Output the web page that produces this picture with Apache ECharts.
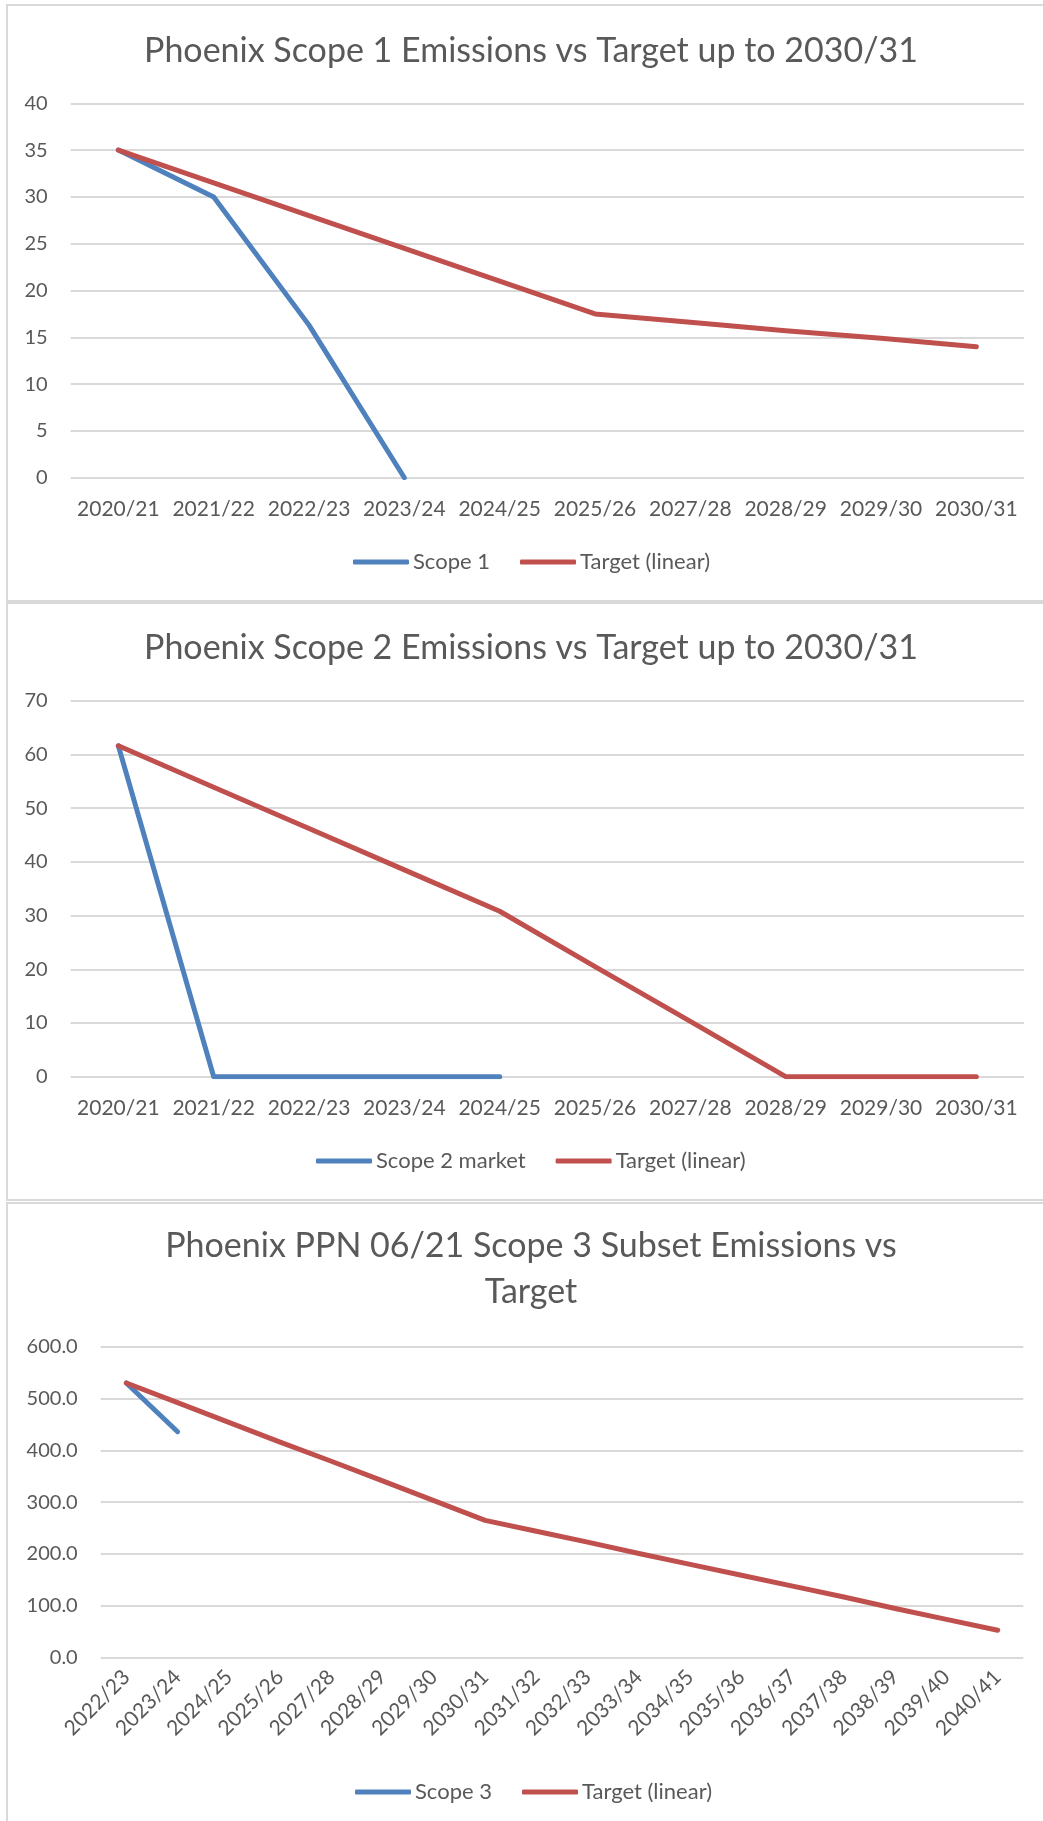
<!DOCTYPE html>
<html lang="en" style="height: 100%">
<head>
  <meta charset="utf-8">
</head>
<body style="height: 100%; margin: 0">
  <div id="container" style="width: 1043px; height: 1821px"></div>

  <script type="text/javascript" src="https://fastly.jsdelivr.net/npm/echarts@6/dist/echarts.min.js"></script>

  <script type="text/javascript">
    // chart 1 - scope 1
    var years1 = ['2020/21', '2021/22', '2022/23', '2023/24', '2024/25', '2025/26', '2027/28', '2028/29', '2029/30', '2030/31'];
    var scope1 = [35, 30, 16.3, 0, null, null, null, null, null, null];
    var target1 = [35, 31.5, 28, 24.5, 21, 17.5, 16.6, 15.7, 14.9, 14];

    // chart 2 - scope 2 market
    var years2 = ['2020/21', '2021/22', '2022/23', '2023/24', '2024/25', '2025/26', '2027/28', '2028/29', '2029/30', '2030/31'];
    var scope2 = [61.6, 0, 0, 0, 0, null, null, null, null, null];
    var target2 = [61.6, 53.9, 46.2, 38.5, 30.8, 20.5, 10.3, 0, 0, 0];

    // chart 3 - scope 3 subset
    var years3 = ['2022/23', '2023/24', '2024/25', '2025/26', '2027/28', '2028/29', '2029/30', '2030/31', '2031/32',
      '2032/33', '2033/34', '2034/35', '2035/36', '2036/37', '2037/38', '2038/39', '2039/40', '2040/41'];
    var scope3 = [530, 436, null, null, null, null, null, null, null, null, null, null, null, null, null, null, null, null];
    var target3 = [530, 492, 454, 416, 379, 341, 303, 265, 244, 223, 201, 180, 159, 138, 117, 95, 74, 53];

    var dom = document.getElementById('container');
    var myChart = echarts.init(dom, null, { renderer: 'canvas' });

    var FONT = 'Lato';
    var GREY = '#595959';
    var BLUE = '#4F81BD';
    var RED = '#C0504D';

    function xAxis(idx, data, rotate) {
      return {
        type: 'category',
        gridIndex: idx,
        data: data,
        axisLine: { show: false },
        axisTick: { show: false },
        axisLabel: {
          color: GREY,
          fontFamily: FONT,
          fontSize: 21,
          margin: rotate ? 16 : 21,
          rotate: rotate || 0,
          interval: 0
        }
      };
    }

    function yAxis(idx, max, step, digits) {
      return {
        type: 'value',
        gridIndex: idx,
        min: 0,
        max: max,
        interval: step,
        axisLine: { show: false },
        axisTick: { show: false },
        splitLine: { lineStyle: { color: '#d9d9d9', width: 2 } },
        axisLabel: {
          color: GREY,
          fontFamily: FONT,
          fontSize: 20,
          margin: 23,
          formatter: function (v) { return v.toFixed(digits); }
        }
      };
    }

    function line(name, idx, data, color) {
      return {
        name: name,
        type: 'line',
        xAxisIndex: idx,
        yAxisIndex: idx,
        data: data,
        symbol: 'none',
        silent: true,
        lineStyle: { color: color, width: 5, cap: 'round', join: 'round' },
        itemStyle: { color: color }
      };
    }

    function legend(names, left, top) {
      return {
        data: names,
        left: left,
        top: top,
        icon: 'roundRect',
        itemWidth: 56,
        itemHeight: 5,
        itemGap: 30,
        textStyle: { color: GREY, fontFamily: FONT, fontSize: 22, padding: [0, 0, 0, -1] }
      };
    }

    function title(text, top) {
      return {
        text: text,
        left: 526,
        top: top,
        textAlign: 'center',
        textStyle: { color: GREY, fontFamily: FONT, fontSize: 34, fontWeight: 'normal', lineHeight: 46 }
      };
    }

    var boxStyle = { fill: 'none', stroke: '#d9d9d9', lineWidth: 2 };

    var option = {
      animation: false,
      backgroundColor: '#ffffff',
      graphic: [
        { type: 'rect', shape: { x: 7, y: 5, width: 1040, height: 596 }, style: boxStyle },
        { type: 'rect', shape: { x: 7, y: 603, width: 1040, height: 597 }, style: boxStyle },
        { type: 'rect', shape: { x: 7, y: 1203, width: 1040, height: 630 }, style: boxStyle }
      ],
      title: [
        title('Phoenix Scope 1 Emissions vs Target up to 2030/31', 23),
        title('Phoenix Scope 2 Emissions vs Target up to 2030/31', 620),
        title('Phoenix PPN 06/21 Scope 3 Subset Emissions vs\nTarget', 1218)
      ],
      legend: [
        legend(['Scope 1', 'Target (linear)'], 348, 546),
        legend(['Scope 2 market', 'Target (linear) '], 311, 1145),
        legend(['Scope 3', 'Target (linear)  '], 350, 1776)
      ],
      grid: [
        { left: 70.7, right: 19, top: 103.3, height: 374.4 },
        { left: 70.7, right: 19, top: 700.7, height: 376 },
        { left: 100.7, right: 19.7, top: 1346.7, height: 311 }
      ],
      xAxis: [xAxis(0, years1), xAxis(1, years2), xAxis(2, years3, 45)],
      yAxis: [yAxis(0, 40, 5, 0), yAxis(1, 70, 10, 0), yAxis(2, 600, 100, 1)],
      series: [
        line('Scope 1', 0, scope1, BLUE),
        line('Target (linear)', 0, target1, RED),
        line('Scope 2 market', 1, scope2, BLUE),
        line('Target (linear) ', 1, target2, RED),
        line('Scope 3', 2, scope3, BLUE),
        line('Target (linear)  ', 2, target3, RED)
      ]
    };

    myChart.setOption(option);
    window.addEventListener('resize', myChart.resize);
  </script>
</body>
</html>
